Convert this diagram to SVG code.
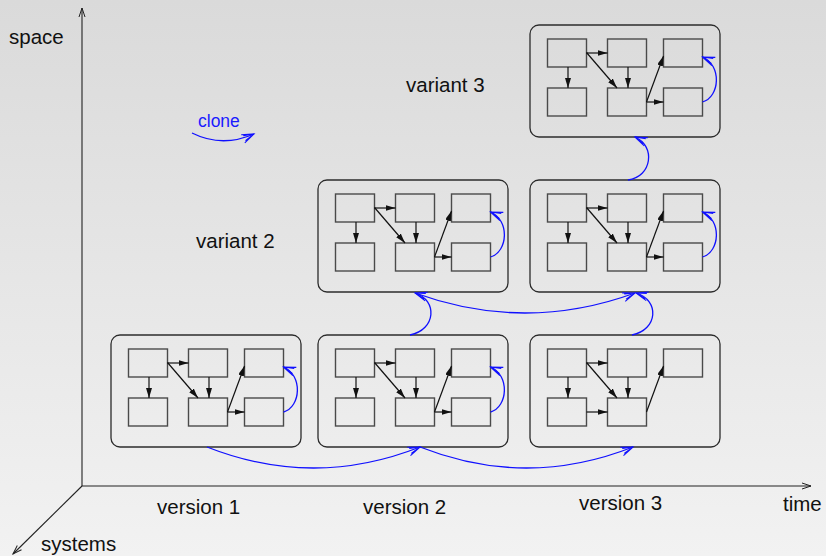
<svg xmlns="http://www.w3.org/2000/svg" xmlns:xlink="http://www.w3.org/1999/xlink" width="826" height="556" viewBox="0 0 826 556">
<defs>
<linearGradient id="bg" x1="0" y1="0" x2="0" y2="1">
<stop offset="0" stop-color="#dadada"/>
<stop offset="1" stop-color="#f2f2f2"/>
</linearGradient>
<marker id="ah" markerUnits="userSpaceOnUse" markerWidth="12" markerHeight="8" refX="10" refY="3" orient="auto">
<path d="M0,0 L10,3 L0,6 z" fill="#111"/>
</marker>
<marker id="bh" markerUnits="userSpaceOnUse" markerWidth="16" markerHeight="12" refX="12" refY="4.5" orient="auto" overflow="visible">
<path d="M0,0 L12,4.5 L0,9 M1.5,1.8 L12,4.5 L1.5,7.2" fill="none" stroke="#1010ff" stroke-width="1.1"/>
</marker>
<marker id="axh" markerUnits="userSpaceOnUse" markerWidth="12" markerHeight="8" refX="9" refY="3" orient="auto" overflow="visible">
<path d="M0,0 L9,3 L0,6" fill="none" stroke="#222" stroke-width="1"/>
</marker>
<style>
.outer{fill:none;stroke:#2c2c2c;stroke-width:1.3}
.inner{fill:none;stroke:#4a4a4a;stroke-width:1.4}
.conn{fill:none;stroke:#111;stroke-width:1.2;marker-end:url(#ah)}
.clone{fill:none;stroke:#1010ff;stroke-width:1.3;marker-end:url(#bh)}
.axis{fill:none;stroke:#222;stroke-width:1.1;marker-end:url(#axh)}
.lbl{font-family:"Liberation Sans",Arial,sans-serif;font-size:20.5px;fill:#111}
.blbl{font-family:"Liberation Sans",Arial,sans-serif;font-size:17.5px;fill:#1a1aff}
</style>
</defs>
<rect x="0" y="0" width="826" height="556" fill="url(#bg)"/>

<g id="axes">
<path class="axis" d="M82,486 L82,8"/>
<path class="axis" d="M82,486 L811,486"/>
<path class="axis" d="M82,486 L13,554"/>
</g>

<g id="labels">
<text class="lbl" x="9" y="44">space</text>
<text class="lbl" x="41" y="551">systems</text>
<text class="lbl" x="783" y="511">time</text>
<text class="lbl" x="157" y="514">version 1</text>
<text class="lbl" x="363" y="514">version 2</text>
<text class="lbl" x="579" y="510">version 3</text>
<text class="lbl" x="196" y="248">variant 2</text>
<text class="lbl" x="406" y="92">variant 3</text>
</g>

<g id="legend">
<text class="blbl" x="198" y="127">clone</text>
<path class="clone" d="M192,133 Q222,148 254,134"/>
</g>

<g id="sys-v1-var1" transform="translate(111,335)">
<rect class="outer" x="0" y="0" width="190" height="112" rx="9"/>
<rect class="inner" x="17.5" y="14" width="39" height="28"/>
<rect class="inner" x="77.5" y="14" width="39" height="28"/>
<rect class="inner" x="133.5" y="14" width="39" height="28"/>
<rect class="inner" x="17.5" y="63" width="39" height="28"/>
<rect class="inner" x="77.5" y="63" width="39" height="28"/>
<rect class="inner" x="133.5" y="63" width="39" height="28"/>
<path class="conn" d="M56.5,28 L77.5,28"/>
<path class="conn" d="M38,42 L38,63"/>
<path class="conn" d="M56.5,27.5 L87,63"/>
<path class="conn" d="M98,42 L98,63"/>
<path class="conn" d="M116.5,77 L133.5,31"/>
<path class="conn" d="M116.5,77 L133.5,77"/>
<path class="clone" d="M172.5,77 C190,72 192,40 172.5,32"/>
</g>

<g id="sys-v2-var1" transform="translate(318,335)">
<rect class="outer" x="0" y="0" width="190" height="112" rx="9"/>
<rect class="inner" x="17.5" y="14" width="39" height="28"/>
<rect class="inner" x="77.5" y="14" width="39" height="28"/>
<rect class="inner" x="133.5" y="14" width="39" height="28"/>
<rect class="inner" x="17.5" y="63" width="39" height="28"/>
<rect class="inner" x="77.5" y="63" width="39" height="28"/>
<rect class="inner" x="133.5" y="63" width="39" height="28"/>
<path class="conn" d="M56.5,28 L77.5,28"/>
<path class="conn" d="M38,42 L38,63"/>
<path class="conn" d="M56.5,27.5 L87,63"/>
<path class="conn" d="M98,42 L98,63"/>
<path class="conn" d="M116.5,77 L133.5,31"/>
<path class="conn" d="M116.5,77 L133.5,77"/>
<path class="clone" d="M172.5,77 C190,72 192,40 172.5,32"/>
</g>

<g id="sys-v3-var1" transform="translate(530,335)">
<rect class="outer" x="0" y="0" width="190" height="112" rx="9"/>
<rect class="inner" x="17.5" y="14" width="39" height="28"/>
<rect class="inner" x="77.5" y="14" width="39" height="28"/>
<rect class="inner" x="133.5" y="14" width="39" height="28"/>
<rect class="inner" x="17.5" y="63" width="39" height="28"/>
<rect class="inner" x="77.5" y="63" width="39" height="28"/>
<path class="conn" d="M56.5,28 L77.5,28"/>
<path class="conn" d="M38,42 L38,63"/>
<path class="conn" d="M56.5,27.5 L87,63"/>
<path class="conn" d="M98,42 L98,63"/>
<path class="conn" d="M116.5,77 L133.5,31"/>
<path class="conn" d="M56.5,77 L77.5,77"/>
</g>

<g id="sys-v2-var2" transform="translate(318,180)">
<rect class="outer" x="0" y="0" width="190" height="112" rx="9"/>
<rect class="inner" x="17.5" y="14" width="39" height="28"/>
<rect class="inner" x="77.5" y="14" width="39" height="28"/>
<rect class="inner" x="133.5" y="14" width="39" height="28"/>
<rect class="inner" x="17.5" y="63" width="39" height="28"/>
<rect class="inner" x="77.5" y="63" width="39" height="28"/>
<rect class="inner" x="133.5" y="63" width="39" height="28"/>
<path class="conn" d="M56.5,28 L77.5,28"/>
<path class="conn" d="M38,42 L38,63"/>
<path class="conn" d="M56.5,27.5 L87,63"/>
<path class="conn" d="M98,42 L98,63"/>
<path class="conn" d="M116.5,77 L133.5,31"/>
<path class="conn" d="M116.5,77 L133.5,77"/>
<path class="clone" d="M172.5,77 C190,72 192,40 172.5,32"/>
</g>

<g id="sys-v3-var2" transform="translate(530,180)">
<rect class="outer" x="0" y="0" width="190" height="112" rx="9"/>
<rect class="inner" x="17.5" y="14" width="39" height="28"/>
<rect class="inner" x="77.5" y="14" width="39" height="28"/>
<rect class="inner" x="133.5" y="14" width="39" height="28"/>
<rect class="inner" x="17.5" y="63" width="39" height="28"/>
<rect class="inner" x="77.5" y="63" width="39" height="28"/>
<rect class="inner" x="133.5" y="63" width="39" height="28"/>
<path class="conn" d="M56.5,28 L77.5,28"/>
<path class="conn" d="M38,42 L38,63"/>
<path class="conn" d="M56.5,27.5 L87,63"/>
<path class="conn" d="M98,42 L98,63"/>
<path class="conn" d="M116.5,77 L133.5,31"/>
<path class="conn" d="M116.5,77 L133.5,77"/>
<path class="clone" d="M172.5,77 C190,72 192,40 172.5,32"/>
</g>

<g id="sys-v3-var3" transform="translate(530,25)">
<rect class="outer" x="0" y="0" width="190" height="112" rx="9"/>
<rect class="inner" x="17.5" y="14" width="39" height="28"/>
<rect class="inner" x="77.5" y="14" width="39" height="28"/>
<rect class="inner" x="133.5" y="14" width="39" height="28"/>
<rect class="inner" x="17.5" y="63" width="39" height="28"/>
<rect class="inner" x="77.5" y="63" width="39" height="28"/>
<rect class="inner" x="133.5" y="63" width="39" height="28"/>
<path class="conn" d="M56.5,28 L77.5,28"/>
<path class="conn" d="M38,42 L38,63"/>
<path class="conn" d="M56.5,27.5 L87,63"/>
<path class="conn" d="M98,42 L98,63"/>
<path class="conn" d="M116.5,77 L133.5,31"/>
<path class="conn" d="M116.5,77 L133.5,77"/>
<path class="clone" d="M172.5,77 C190,72 192,40 172.5,32"/>
</g>

<g id="connectors">
<path class="clone" d="M207,447 Q313.5,489 420,447"/>
<path class="clone" d="M420,447 Q526.5,489 633,447"/>
<path class="clone" d="M410,335 C436,330 438,300 415,293"/>
<path class="clone" d="M632,335 C658,330 660,300 636,293"/>
<path class="clone" d="M415,293 Q525,333 635,293"/>
<path class="clone" d="M628,180 C652,177 656,146 635,137"/>
</g>
</svg>
